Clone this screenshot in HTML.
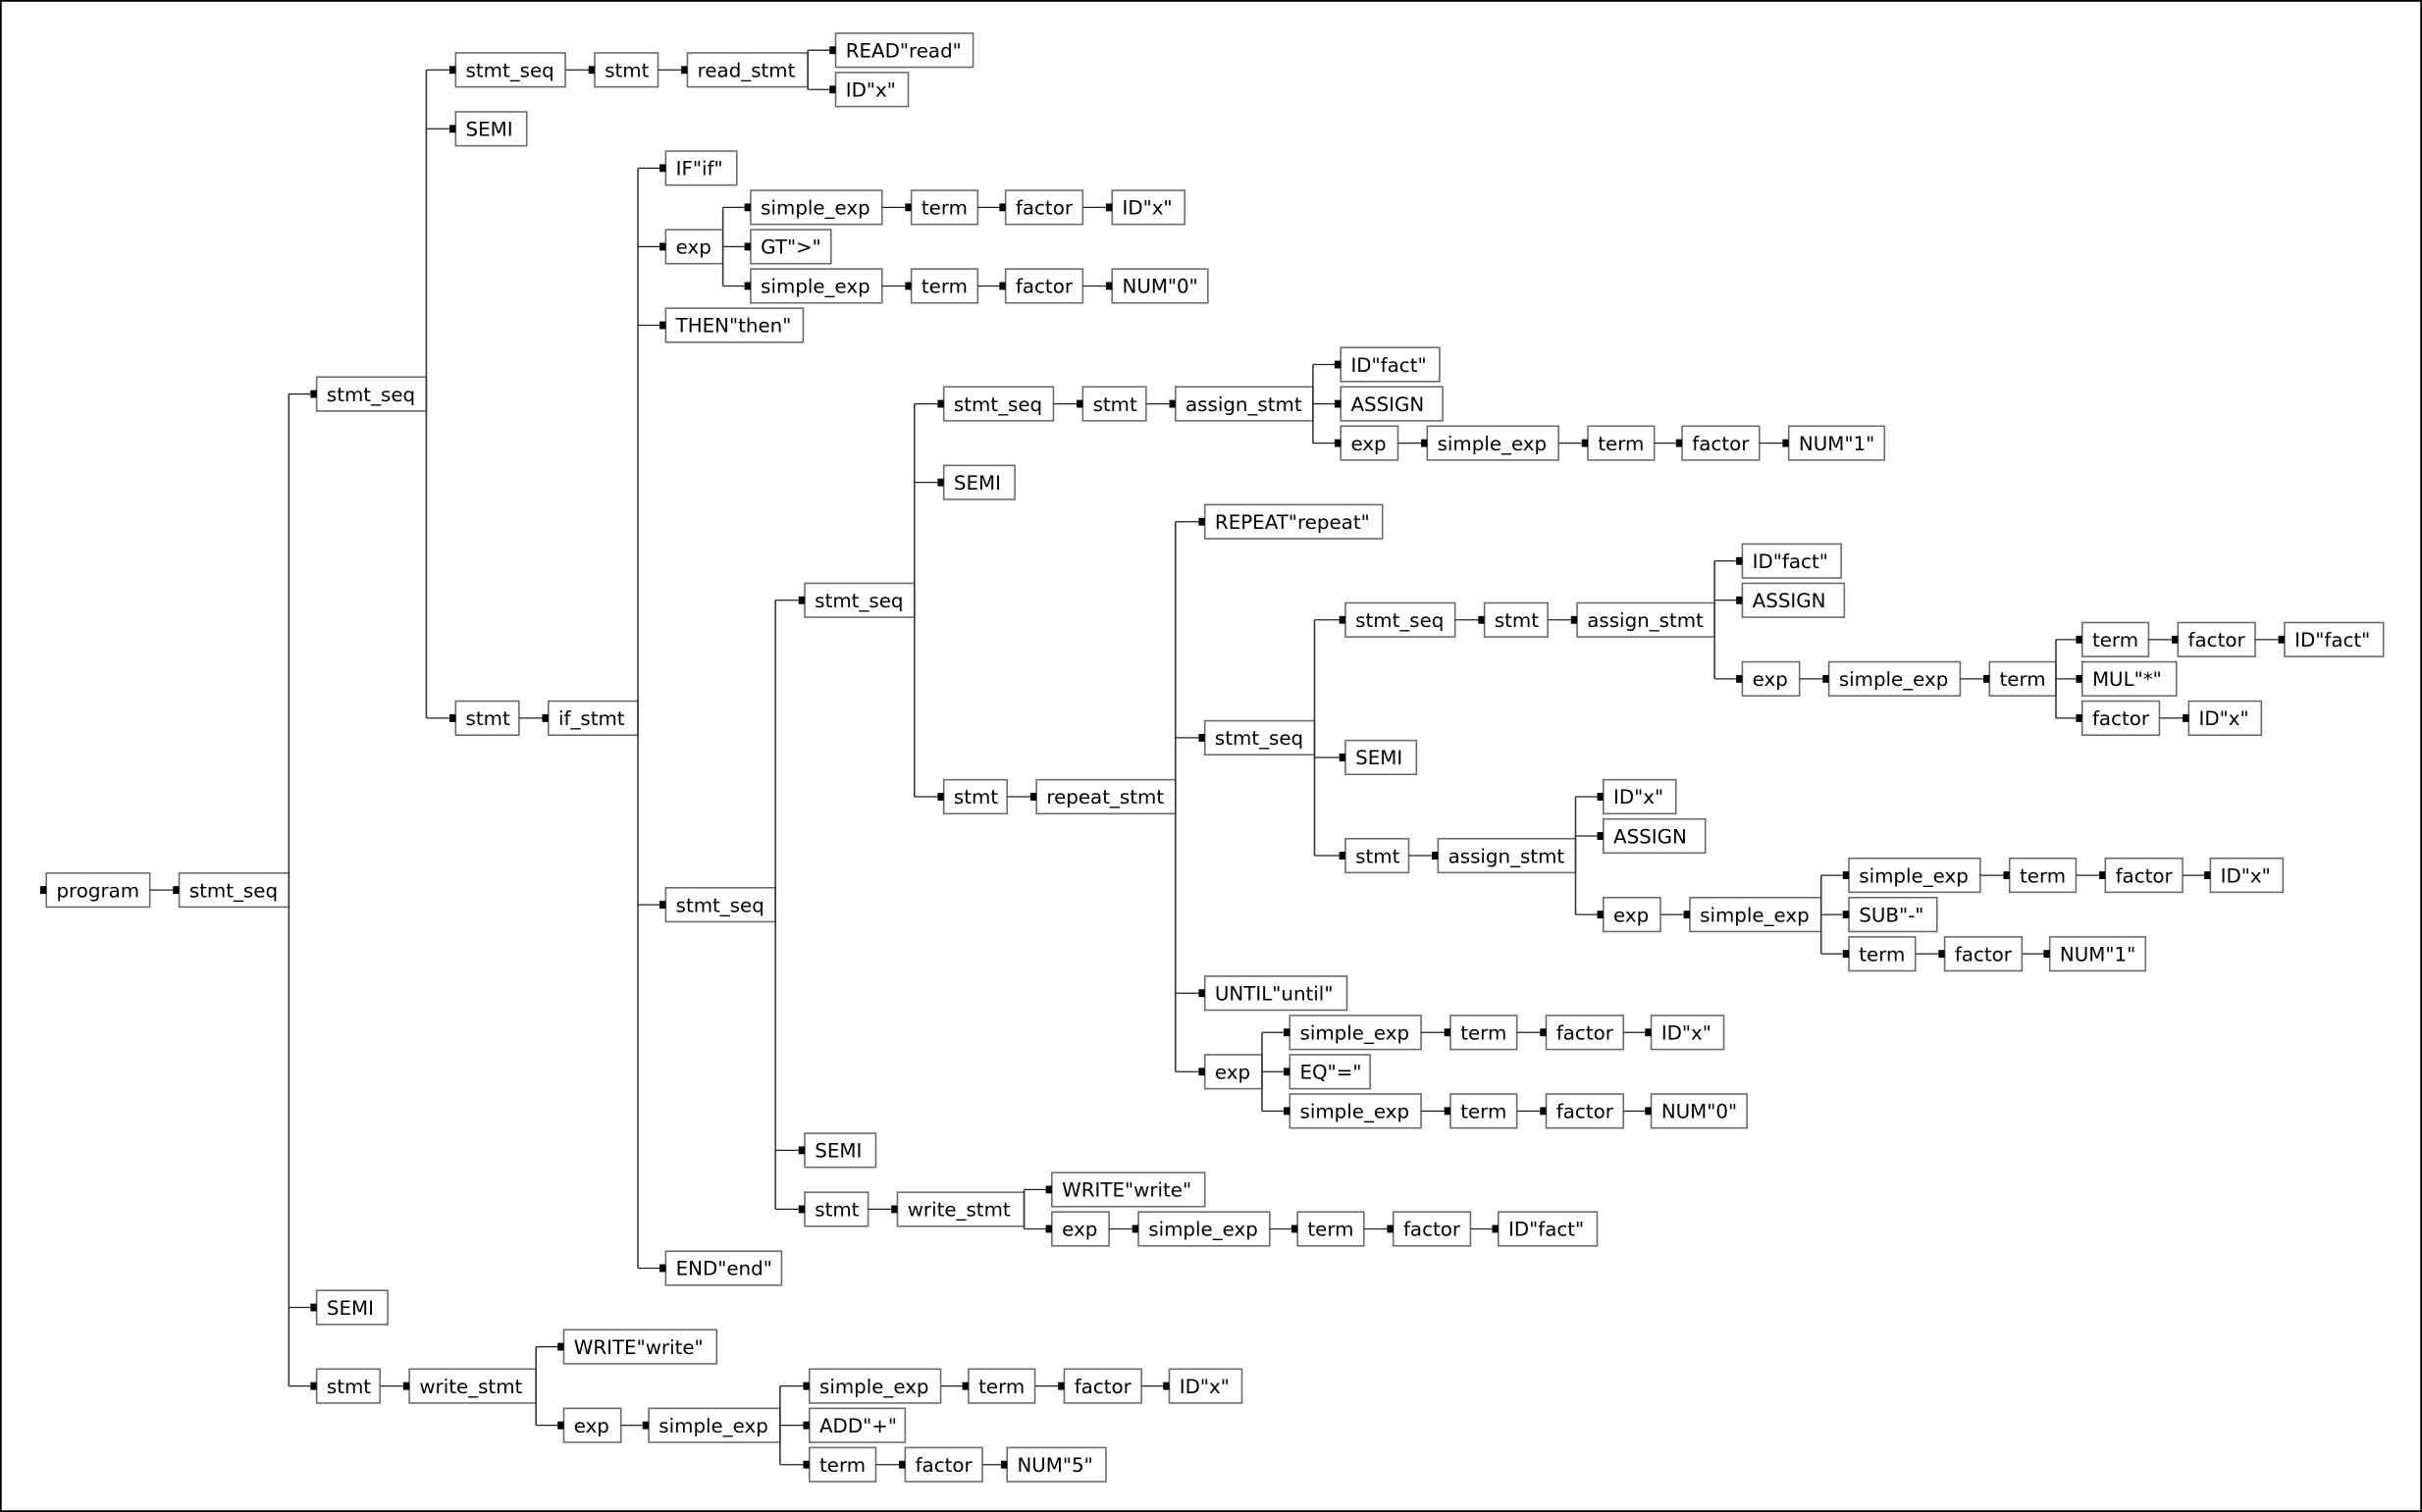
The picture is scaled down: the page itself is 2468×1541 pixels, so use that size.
<!DOCTYPE html>
<html><head><meta charset="utf-8"><style>html,body{margin:0;padding:0;background:#fff;}svg{display:block}</style></head>
<body>
<svg id="s" xmlns="http://www.w3.org/2000/svg" width="2468" height="1541" viewBox="0 0 1568 979">
<rect x="0.5" y="0.5" width="1567" height="978" fill="#fff" stroke="#000" stroke-width="1.2"/>
<g id="g"></g>
</svg>
<script>
const W={"stmt_seq":71,"stmt":41,"read_stmt":78,'READ"read"':89,'ID"x"':47,"SEMI":46,"if_stmt":58,'IF"if"':46,"exp":37,"simple_exp":85,"term":43,"factor":50,'GT">"':52,'NUM"0"':62,'NUM"1"':62,'NUM"5"':64,'THEN"then"':89,'ID"fact"':64,"ASSIGN":66,"assign_stmt":89,"repeat_stmt":90,'REPEAT"repeat"':115,'MUL"*"':61,'SUB"-"':57,'UNTIL"until"':92,'EQ"="':52,'WRITE"write"':99,"write_stmt":82,'END"end"':75,'ADD"+"':62,"program":67};
function N(l,x,c){return typeof c==="number"?{l,x,row:c,c:[]}:{l,x,c:c||[]};}
function chain(xs,labels,row){let n=N(labels[labels.length-1],xs[xs.length-1],row);for(let i=labels.length-2;i>=0;i--)n=N(labels[i],xs[i],[n]);return n;}
const SE=["simple_exp","term","factor"];
const tree=N("program",30,[N("stmt_seq",116,[
 N("stmt_seq",205,[
  N("stmt_seq",295,[N("stmt",385,[N("read_stmt",445,[N('READ"read"',541,0),N('ID"x"',541,1)])])]),
  N("SEMI",295,2),
  N("stmt",295,[N("if_stmt",355,[
   N('IF"if"',431,3),
   N("exp",431,[chain([486,590,651,720],[...SE,'ID"x"'],4),N('GT">"',486,5),chain([486,590,651,720],[...SE,'NUM"0"'],6)]),
   N('THEN"then"',431,7),
   N("stmt_seq",431,[
    N("stmt_seq",521,[
     N("stmt_seq",611,[N("stmt",701,[N("assign_stmt",761,[N('ID"fact"',868,8),N("ASSIGN",868,9),chain([868,924,1028,1089,1158],["exp",...SE,'NUM"1"'],10)])])]),
     N("SEMI",611,11),
     N("stmt",611,[N("repeat_stmt",671,[
      N('REPEAT"repeat"',780,12),
      N("stmt_seq",780,[
       N("stmt_seq",871,[N("stmt",961,[N("assign_stmt",1021,[N('ID"fact"',1128,13),N("ASSIGN",1128,14),
         N("exp",1128,[N("simple_exp",1184,[N("term",1288,[chain([1348,1410,1479],["term","factor",'ID"fact"'],15),N('MUL"*"',1348,16),chain([1348,1417],["factor",'ID"x"'],17)])])])])])]),
       N("SEMI",871,18),
       N("stmt",871,[N("assign_stmt",931,[N('ID"x"',1038,19),N("ASSIGN",1038,20),
         N("exp",1038,[N("simple_exp",1094,[chain([1197,1301,1363,1431],[...SE,'ID"x"'],21),N('SUB"-"',1197,22),chain([1197,1259,1327],["term","factor",'NUM"1"'],23)])])])])
      ]),
      N('UNTIL"until"',780,24),
      N("exp",780,[chain([835,939,1001,1069],[...SE,'ID"x"'],25),N('EQ"="',835,26),chain([835,939,1001,1069],[...SE,'NUM"0"'],27)])
     ])])
    ]),
    N("SEMI",521,28),
    N("stmt",521,[N("write_stmt",581,[N('WRITE"write"',681,29),chain([681,737,840,902,970],["exp",...SE,'ID"fact"'],30)])])
   ]),
   N('END"end"',431,31)
  ])])
 ]),
 N("SEMI",205,32),
 N("stmt",205,[N("write_stmt",265,[N('WRITE"write"',365,33),N("exp",365,[N("simple_exp",420,[chain([524,627,689,757],[...SE,'ID"x"'],34),N('ADD"+"',524,35),chain([524,586,652],["term","factor",'NUM"5"'],36)])])])])
])]);
function Y(n){if(n.y!==undefined)return n.y;if(n.c.length===0)n.y=32.5+25.44*n.row;else{n.c.forEach(Y);n.y=(n.c[0].y+n.c[n.c.length-1].y)/2;}return n.y;}
Y(tree);
let out="";
function esc(s){return s.replace(/&/g,"&amp;").replace(/"/g,"&quot;").replace(/</g,"&lt;").replace(/>/g,"&gt;");}
function draw(n){
 const w=W[n.l]||60, r=n.x+w;
 out+=`<rect x="${n.x}" y="${n.y-11}" width="${w}" height="22" fill="#fff" stroke="#6a6a6a" stroke-width="1"/>`;
 out+=`<text x="${n.x+6.5}" y="${n.y+4.6}" font-family="DejaVu Sans, Liberation Sans, sans-serif" font-size="12.6" fill="#000">${esc(n.l)}</text>`;
 out+=`<rect x="${n.x-4}" y="${n.y-2.5}" width="4" height="5" fill="#000"/>`;
 if(n.c.length>1){
  out+=`<line x1="${r}" y1="${n.c[0].y}" x2="${r}" y2="${n.c[n.c.length-1].y}" stroke="#333" stroke-width="1"/>`;
 }
 n.c.forEach(c=>{out+=`<line x1="${r}" y1="${c.y}" x2="${c.x-4}" y2="${c.y}" stroke="#222" stroke-width="0.8"/>`;draw(c);});
}
draw(tree);
document.getElementById("g").innerHTML=out;
</script>
</body></html>
